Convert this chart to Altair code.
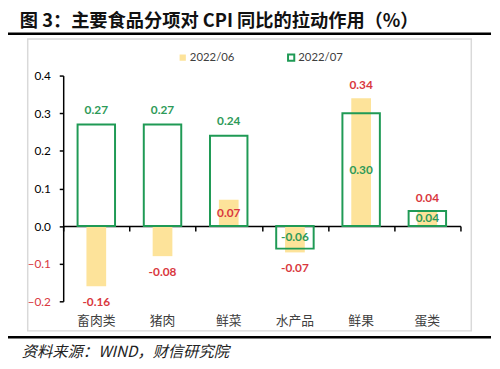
import altair as alt
import pandas as pd

cats = ["畜肉类", "猪肉", "鲜菜", "水产品", "鲜果", "蛋类"]
series_names = ["2022/06", "2022/07"]
v06 = [-0.16, -0.08, 0.07, -0.07, 0.34, 0.04]
v07 = [0.27, 0.27, 0.24, -0.06, 0.30, 0.04]
pos06 = ["end", "end", "mid", "end", "end", "end"]
pos07 = ["end", "end", "end", "mid", "mid", "mid"]
y_ticks = [-0.2, -0.1, 0.0, 0.1, 0.2, 0.3, 0.4]

rows = []
for s, vals, poss in [(series_names[0], v06, pos06), (series_names[1], v07, pos07)]:
    for c, v, p in zip(cats, vals, poss):
        rows.append({"cat": c, "series": s, "value": v, "pos": p,
                     "ly": v / 2 if p == "mid" else v, "lab": f"{v:.2f}"})
df = pd.DataFrame(rows)

YELLOW = "#fde39a"
GREEN = "#1f9a55"
RED = "#d9383e"
GREEN_T = "#2e9a58"
NUMFONT = "Lato"
CJK = "Noto Sans CJK SC"

yscale = alt.Scale(domain=[-0.2, 0.4], nice=False, zero=False)
yaxis = alt.Axis(values=y_ticks, format=".1f", title=None, grid=False,
                 domainColor="black", domainWidth=1.5, tickColor="black",
                 tickSize=4, tickWidth=1.5, labelPadding=9, labelFont=NUMFONT,
                 labelFontSize=12,
                 labelColor={"expr": "datum.value < 0 ? '#d9383e' : '#000000'"})
xscale = alt.Scale(domain=cats, paddingInner=0, paddingOuter=0)

label_axis = alt.Axis(orient="bottom", domain=False, ticks=False, labelPadding=14,
                      labelFont=CJK, labelFontSize=13, labelColor="#404040",
                      labelAngle=0, title=None, grid=False)
zero_axis = alt.Axis(orient="bottom", offset=-76.33, domain=True, domainColor="black",
                     domainWidth=1.5, ticks=True, tickBand="extent", tickSize=5,
                     tickColor="black", tickWidth=1.5, labels=False, title=None,
                     grid=False)

legend = alt.Legend(title=None, orient="none", legendX=115.5, legendY=-24,
                    direction="horizontal", symbolType="square",
                    symbolSize=40, symbolStrokeWidth=2,
                    labelFont=NUMFONT, labelFontSize=11.5,
                    labelColor="#404040", columnPadding=49,
                    labelOffset=1.5, padding=0)
fill_enc = alt.Fill("series:N", scale=alt.Scale(domain=series_names, range=[YELLOW, "transparent"]),
                    legend=legend)
stroke_enc = alt.Stroke("series:N", scale=alt.Scale(domain=series_names, range=["transparent", GREEN]),
                        legend=legend)


def bar_layer(series, width, axis):
    return alt.Chart(df).transform_filter(f"datum.series == '{series}'").mark_bar(
        strokeWidth=2, size=width
    ).encode(
        x=alt.X("cat:N", sort=cats, scale=xscale, axis=axis),
        y=alt.Y("value:Q", scale=yscale, axis=yaxis, stack=None),
        fill=fill_enc,
        stroke=stroke_enc,
    )


bars06 = bar_layer("2022/06", 20, label_axis)
bars07 = bar_layer("2022/07", 38, None)

zero = alt.Chart(df).mark_point(opacity=0).encode(
    x=alt.X("cat:N", sort=cats, scale=xscale, axis=zero_axis),
    y=alt.Y("value:Q", scale=yscale, axis=yaxis),
)


def labels(series, pos, sign, dy, color):
    cond = f"datum.series == '{series}' && datum.pos == '{pos}'"
    if sign > 0:
        cond += " && datum.value > 0"
    elif sign < 0:
        cond += " && datum.value < 0"
    return alt.Chart(df).transform_filter(cond).mark_text(
        font=NUMFONT, fontSize=12, fontWeight="bold", color=color, dy=dy,
        baseline="middle", align="center"
    ).encode(
        x=alt.X("cat:N", sort=cats, scale=xscale, axis=None),
        y=alt.Y("ly:Q", scale=yscale, axis=yaxis),
        text="lab:N",
    )


texts = [
    labels("2022/06", "end", 1, -13, RED),
    labels("2022/06", "end", -1, 16, RED),
    labels("2022/06", "mid", 0, 0, RED),
    labels("2022/07", "end", 1, -15, GREEN_T),
    labels("2022/07", "mid", 0, 0, GREEN_T),
]

one = pd.DataFrame({"a": [0]})
title = alt.Chart(one).mark_text(text="图 3：主要食品分项对 CPI 同比的拉动作用（%）",
                                 font=CJK, fontSize=18.5, fontWeight="bold", align="left",
                                 baseline="middle", color="#111111").encode(
    x=alt.value(-44), y=alt.value(-55.5))
top_line = alt.Chart(one).mark_rule(color="black", strokeWidth=2.5).encode(
    x=alt.value(-56), x2=alt.value(434), y=alt.value(-42.5))
box = alt.Chart(one).mark_rect(fill="white", fillOpacity=0, stroke="#d9d9d9", strokeWidth=1.5).encode(
    x=alt.value(-36), x2=alt.value(414), y=alt.value(-37), y2=alt.value(259))
bot_line = alt.Chart(one).mark_rule(color="black", strokeWidth=2.5).encode(
    x=alt.value(-56), x2=alt.value(434), y=alt.value(265.5))
source = alt.Chart(one).mark_text(text="资料来源：WIND，财信研究院", font=CJK, fontSize=15.5,
                                  fontStyle="italic", align="left", baseline="middle",
                                  color="#222222").encode(
    x=alt.value(-42), y=alt.value(280.5))

chart = alt.layer(box, title, top_line, bot_line, source, zero, bars06, bars07, *texts).resolve_axis(
    x="independent"
).properties(
    width=403, height=229,
    padding={"left": 56, "top": 66, "right": 32, "bottom": 58},
    autosize=alt.AutoSizeParams(type="none"),
).configure_view(stroke=None)

chart.save("out.html", embed_options={"renderer": "svg", "actions": False})
